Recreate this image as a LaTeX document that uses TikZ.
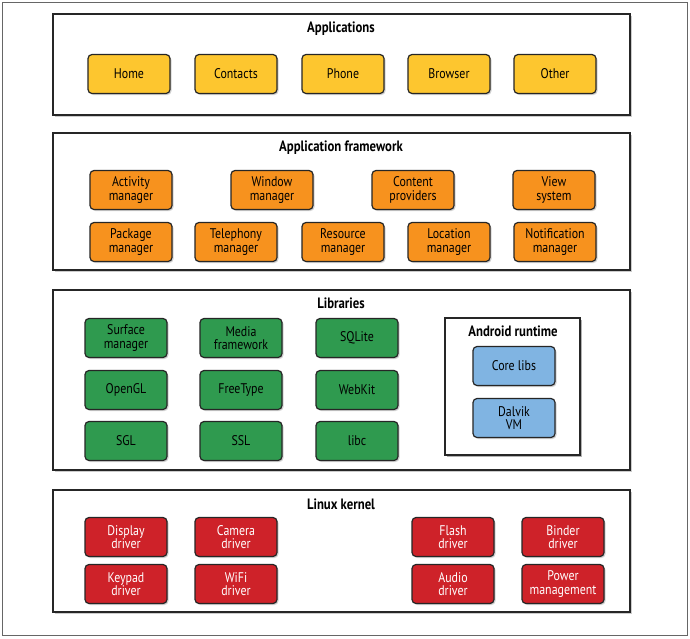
\documentclass[tikz,border=0pt]{standalone}
\usepackage{fontspec}
\setmainfont{PT Sans}[FakeStretch=0.85]
\usetikzlibrary{shadows}
\begin{document}
\begin{tikzpicture}[x=1pt,y=-1pt,
 layer/.style={draw=black!85,line width=1.3pt,fill=white,drop shadow={shadow xshift=2pt,shadow yshift=-2pt,opacity=0.4}},
 ttl/.style={font=\bfseries\fontsize{15}{16}\selectfont},
 bx/.style={draw=black!85,line width=1.2pt,rounded corners=4pt,minimum width=82pt,minimum height=39pt,align=center,inner sep=1pt,font=\fontsize{14}{13.5}\selectfont,drop shadow={shadow xshift=1.5pt,shadow yshift=-1.5pt,opacity=0.35}},
 ya/.style={bx,fill=yellowc},or/.style={bx,fill=orangec},gr/.style={bx,fill=greenc},
 bl/.style={bx,fill=bluec},rd/.style={bx,fill=redc,text=white}]
\definecolor{yellowc}{HTML}{FDC62F}
\definecolor{orangec}{HTML}{F7921E}
\definecolor{greenc}{HTML}{2F9A4F}
\definecolor{bluec}{HTML}{80B4E2}
\definecolor{redc}{HTML}{CE2229}
\useasboundingbox (0,0) rectangle (690,638);
\draw[black!60,line width=0.6pt] (2,2) rectangle (687,635);
% layers
\path[layer] (53,14) rectangle (630,115);
\node[ttl] (tA) at (341,29) {Applications};
\path[layer] (53,133) rectangle (630,270);
\node[ttl] (tF) at (341,148) {Application framework};
\path[layer] (53,290) rectangle (630,470);
\node[ttl] (tL) at (341,303) {Libraries};
\path[layer] (53,490) rectangle (630,612);
\node[ttl] (tK) at (341,504) {Linux kernel};
% applications
\node[ya] (home) at (129,74) {Home};
\node[ya] (cont) at (236,74) {Contacts};
\node[ya] (phone) at (343,74) {Phone};
\node[ya] (brow) at (449,74) {Browser};
\node[ya] (oth) at (555,74) {Other};
% framework
\node[or] (act) at (131,190) {Activity\\manager};
\node[or] (win) at (272,190) {Window\\manager};
\node[or] (cp) at (413,190) {Content\\providers};
\node[or] (view) at (554,190) {View\\system};
\node[or] (pkg) at (131,242) {Package\\manager};
\node[or] (tel) at (236,242) {Telephony\\manager};
\node[or] (res) at (343,242) {Resource\\manager};
\node[or] (loc) at (449,242) {Location\\manager};
\node[or] (notif) at (555,242) {Notification\\manager};
% libraries
\node[gr] (surf) at (126,338) {Surface\\manager};
\node[gr] (media) at (241,338) {Media\\framework};
\node[gr] (sql) at (357,338) {SQLite};
\node[gr] (ogl) at (126,390) {OpenGL};
\node[gr] (ft) at (241,390) {FreeType};
\node[gr] (wk) at (357,390) {WebKit};
\node[gr] (sgl) at (126,441) {SGL};
\node[gr] (ssl) at (241,441) {SSL};
\node[gr] (libc) at (357,441) {libc};
\draw[black!85,line width=1.2pt,fill=white,drop shadow={shadow xshift=2pt,shadow yshift=-2pt,opacity=0.6}] (445,318) rectangle (580,455);
\node[ttl] (tR) at (513,331) {Android runtime};
\node[bl] (core) at (514,366) {Core libs};
\node[bl] (dvm) at (514,418) {Dalvik\\VM};
% kernel
\node[rd] (disp) at (126,537) {Display\\driver};
\node[rd] (cam) at (236,537) {Camera\\driver};
\node[rd] (flash) at (453,537) {Flash\\driver};
\node[rd] (bind) at (563,537) {Binder\\driver};
\node[rd] (key) at (126,584) {Keypad\\driver};
\node[rd] (wifi) at (236,584) {WiFi\\driver};
\node[rd] (aud) at (453,584) {Audio\\driver};
\node[rd] (pow) at (563,584) {Power\\management};
\end{tikzpicture}
\end{document}
